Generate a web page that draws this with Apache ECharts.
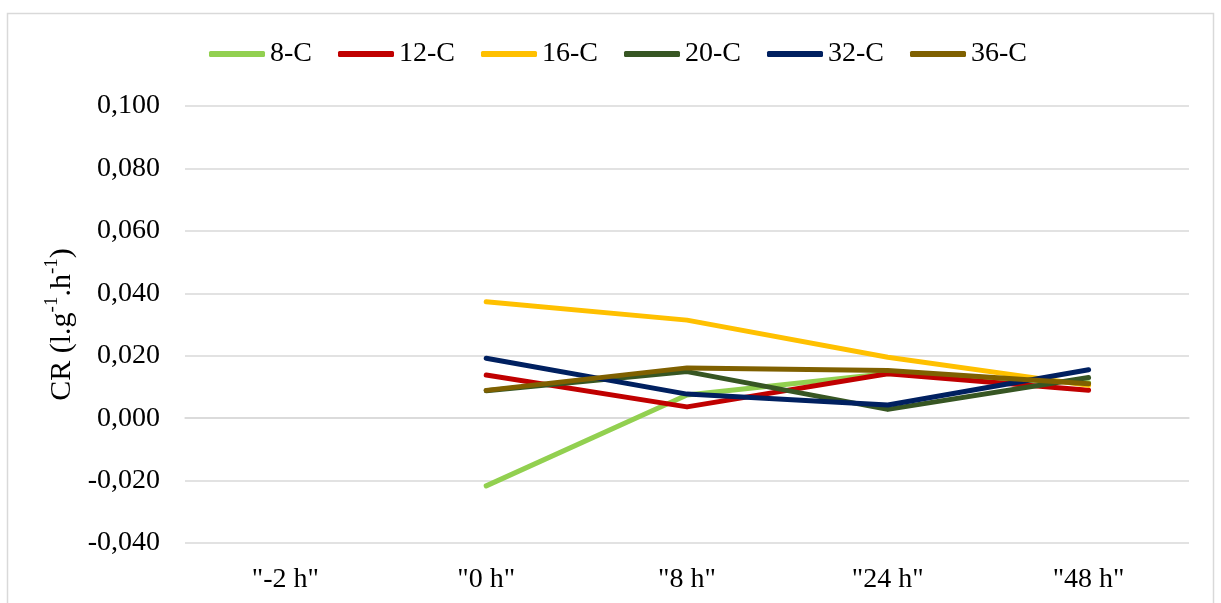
<!DOCTYPE html>
<html>
<head>
<meta charset="utf-8">
<script src="https://cdn.jsdelivr.net/npm/echarts@6/dist/echarts.min.js"></script>
<style>
html,body{margin:0;padding:0;background:#fff;}
#chart{width:1221px;height:603px;}
</style>
</head>
<body>
<div id="chart"></div>
<script>
const categories = ['"-2 h"', '"0 h"', '"8 h"', '"24 h"', '"48 h"'];
const seriesNames = ['8-C', '12-C', '16-C', '20-C', '32-C', '36-C'];
const colors = ['#92d050', '#c00000', '#ffc000', '#375623', '#002060', '#7f6000'];
const s8C  = [null, -0.0217, 0.0074, 0.0143, 0.0113];
const s12C = [null, 0.0138, 0.0036, 0.0142, 0.0089];
const s16C = [null, 0.0373, 0.0314, 0.0195, 0.0105];
const s20C = [null, 0.0088, 0.0149, 0.0028, 0.0130];
const s32C = [null, 0.0192, 0.0077, 0.0042, 0.0155];
const s36C = [null, 0.0089, 0.0161, 0.0153, 0.0110];
const seriesData = [s8C, s12C, s16C, s20C, s32C, s36C];
const yMin = -0.04, yMax = 0.1, yStep = 0.02;

const FONT = '"Liberation Serif", "Times New Roman", serif';
const chart = echarts.init(document.getElementById('chart'));
chart.setOption({
  backgroundColor: '#ffffff',
  animation: false,
  textStyle: { fontFamily: FONT, color: '#000' },
  graphic: [{
    type: 'rect', shape: { x: 7.5, y: 13.5, width: 1206, height: 600 },
    style: { fill: 'none', stroke: '#d9d9d9', lineWidth: 1.5 }, silent: true
  }],
  legend: {
    left: 204, top: 35,
    itemWidth: 56, itemHeight: 6, itemGap: 26,
    icon: 'roundRect',
    textStyle: { fontFamily: FONT, fontSize: 28, color: '#000' },
    data: seriesNames
  },
  grid: { left: 185, right: 32, top: 106, bottom: 60, containLabel: false },
  xAxis: {
    type: 'category', data: categories, boundaryGap: true,
    axisLine: { show: true, lineStyle: { color: '#d9d9d9', width: 1.5 } },
    axisTick: { show: false },
    axisLabel: { fontFamily: FONT, fontSize: 28, color: '#000', margin: 23 }
  },
  yAxis: {
    type: 'value', min: yMin, max: yMax, interval: yStep,
    name: '{a|CR (l.g}{s|-1}{a|.h}{s|-1}{a|)}',
    nameLocation: 'middle', nameGap: 107, nameRotate: 90,
    nameTextStyle: {
      fontFamily: FONT, color: '#000',
      rich: {
        a: { fontFamily: FONT, fontSize: 30, color: '#000', lineHeight: 36, verticalAlign: 'bottom' },
        s: { fontFamily: FONT, fontSize: 19, color: '#000', lineHeight: 36, verticalAlign: 'top', padding: [2, 0, 0, 0] }
      }
    },
    axisLine: { show: false },
    axisTick: { show: false },
    splitLine: { show: true, lineStyle: { color: '#d9d9d9', width: 1.5 } },
    axisLabel: {
      fontFamily: FONT, fontSize: 28, color: '#000', margin: 25,
      formatter: v => v.toFixed(3).replace('.', ',')
    }
  },
  series: seriesNames.map((n, i) => ({
    name: n, type: 'line', data: seriesData[i],
    symbol: 'none', connectNulls: false,
    itemStyle: { color: colors[i] },
    lineStyle: { color: colors[i], width: 5, cap: 'round', join: 'round' }
  }))
});
</script>
</body>
</html>
